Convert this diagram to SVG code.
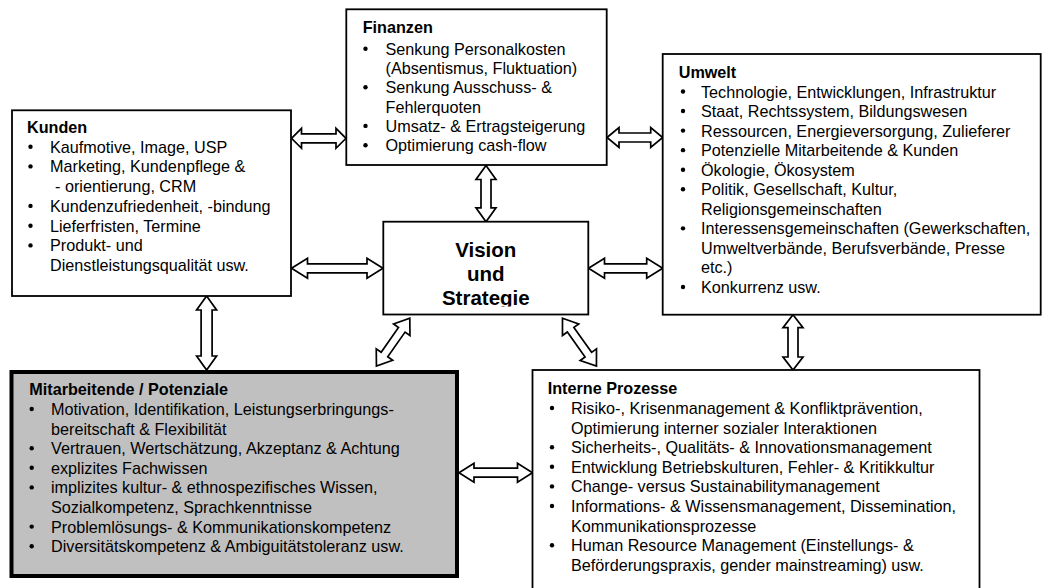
<svg xmlns="http://www.w3.org/2000/svg" width="1042" height="588" viewBox="0 0 1042 588">
<style>
text{font-family:"Liberation Sans",Arial,Helvetica,sans-serif;font-size:16.2px;fill:#000}
.t{font-weight:bold}
.v{font-weight:bold;font-size:20.5px;text-anchor:middle}
.box{fill:#fff;stroke:#000;stroke-width:1.8}
.gray{fill:#c0c0c0;stroke:#000;stroke-width:4}
.arr{fill:#fff;stroke:#000;stroke-width:1.7;stroke-linejoin:miter}
.b{fill:#000}
</style>
<defs>
<clipPath id="vclip"><rect x="385" y="223" width="202" height="83.5"/></clipPath>
</defs>
<rect x="0" y="0" width="1042" height="588" fill="#fff"/>

<g id="connectors">
<path class="arr" transform="translate(291.5,138.3)" d="M0,0 L10,-10 L10,-4.5 L44.5,-4.5 L44.5,-10 L54.5,0 L44.5,10 L44.5,4.5 L10,4.5 L10,10 Z"/>
<path class="arr" transform="translate(291.5,268.3)" d="M0,0 L16,-10 L16,-4.5 L75.5,-4.5 L75.5,-10 L91.5,0 L75.5,10 L75.5,4.5 L16,4.5 L16,10 Z"/>
<path class="arr" transform="translate(486,165.5) rotate(90)" d="M0,0 L14,-10 L14,-5 L42.3,-5 L42.3,-10 L56.3,0 L42.3,10 L42.3,5 L14,5 L14,10 Z"/>
<path class="arr" transform="translate(607,137.5)" d="M0,0 L12,-10 L12,-4.5 L43.7,-4.5 L43.7,-10 L55.7,0 L43.7,10 L43.7,4.5 L12,4.5 L12,10 Z"/>
<path class="arr" transform="translate(588.5,268.3)" d="M0,0 L16,-10 L16,-4.5 L58.2,-4.5 L58.2,-10 L74.2,0 L58.2,10 L58.2,4.5 L16,4.5 L16,10 Z"/>
<path class="arr" transform="translate(206.6,296) rotate(90)" d="M0,0 L14,-10 L14,-5.5 L60,-5.5 L60,-10 L74,0 L60,10 L60,5.5 L14,5.5 L14,10 Z"/>
<path class="arr" transform="translate(409.8,318.3) rotate(125)" d="M0,0 L14,-10 L14,-4 L44.2,-4 L44.2,-10 L58.2,0 L44.2,10 L44.2,4 L14,4 L14,10 Z"/>
<path class="arr" transform="translate(562.5,318.3) rotate(54.6)" d="M0,0 L14,-10 L14,-4 L44.6,-4 L44.6,-10 L58.6,0 L44.6,10 L44.6,4 L14,4 L14,10 Z"/>
<path class="arr" transform="translate(793,314.7) rotate(90)" d="M0,0 L13,-10 L13,-5 L42.3,-5 L42.3,-10 L55.3,0 L42.3,10 L42.3,5 L13,5 L13,10 Z"/>
<path class="arr" transform="translate(459,472.7)" d="M0,0 L15,-9.5 L15,-4.5 L58.5,-4.5 L58.5,-9.5 L73.5,0 L58.5,9.5 L58.5,4.5 L15,4.5 L15,9.5 Z"/>
</g>

<g id="kunden">
<rect class="box" x="12" y="110.3" width="279" height="185.7"/>
<text class="t" x="27" y="132.5">Kunden</text>
<circle class="b" cx="30.5" cy="146.7" r="2.2"/><text x="50" y="152.7">Kaufmotive, Image, USP</text>
<circle class="b" cx="30.5" cy="166.4" r="2.2"/><text x="50" y="172.4">Marketing, Kundenpflege &amp;</text>
<text x="55" y="192.2">- orientierung, CRM</text>
<circle class="b" cx="30.5" cy="205.9" r="2.2"/><text x="50" y="211.9">Kundenzufriedenheit, -bindung</text>
<circle class="b" cx="30.5" cy="225.7" r="2.2"/><text x="50" y="231.7">Lieferfristen, Termine</text>
<circle class="b" cx="30.5" cy="245.4" r="2.2"/><text x="50" y="251.4">Produkt- und</text>
<text x="50" y="271.2">Dienstleistungsqualität usw.</text>
</g>

<g id="finanzen">
<rect class="box" x="346.3" y="9.3" width="260.4" height="155.7"/>
<text class="t" x="362.7" y="32.7">Finanzen</text>
<circle class="b" cx="365.5" cy="48.7" r="2.2"/><text x="385.5" y="54.7">Senkung Personalkosten</text>
<text x="385.5" y="74">(Absentismus, Fluktuation)</text>
<circle class="b" cx="365.5" cy="87.3" r="2.2"/><text x="385.5" y="93.3">Senkung Ausschuss- &amp;</text>
<text x="385.5" y="112.6">Fehlerquoten</text>
<circle class="b" cx="365.5" cy="125.9" r="2.2"/><text x="385.5" y="131.9">Umsatz- &amp; Ertragsteigerung</text>
<circle class="b" cx="365.5" cy="145.2" r="2.2"/><text x="385.5" y="151.2">Optimierung cash-flow</text>
</g>

<g id="umwelt">
<rect class="box" x="662.7" y="54" width="378" height="260.7"/>
<text class="t" x="678.7" y="78.2">Umwelt</text>
<circle class="b" cx="683" cy="91.5" r="2.2"/><text x="701" y="97.5">Technologie, Entwicklungen, Infrastruktur</text>
<circle class="b" cx="683" cy="111.05" r="2.2"/><text x="701" y="117.05">Staat, Rechtssystem, Bildungswesen</text>
<circle class="b" cx="683" cy="130.6" r="2.2"/><text x="701" y="136.6">Ressourcen, Energieversorgung, Zulieferer</text>
<circle class="b" cx="683" cy="150.15" r="2.2"/><text x="701" y="156.15">Potenzielle Mitarbeitende &amp; Kunden</text>
<circle class="b" cx="683" cy="169.7" r="2.2"/><text x="701" y="175.7">Ökologie, Ökosystem</text>
<circle class="b" cx="683" cy="189.25" r="2.2"/><text x="701" y="195.25">Politik, Gesellschaft, Kultur,</text>
<text x="701" y="214.8">Religionsgemeinschaften</text>
<circle class="b" cx="683" cy="228.35" r="2.2"/><text x="701" y="234.35">Interessensgemeinschaften (Gewerkschaften,</text>
<text x="701" y="253.9">Umweltverbände, Berufsverbände, Presse</text>
<text x="701" y="273.45">etc.)</text>
<circle class="b" cx="683" cy="287" r="2.2"/><text x="701" y="293">Konkurrenz usw.</text>
</g>

<g id="vision">
<rect class="box" x="383.3" y="221.7" width="205" height="92.8"/>
<g clip-path="url(#vclip)">
<text class="v" x="485.8" y="256.8">Vision</text>
<text class="v" x="485.8" y="281">und</text>
<text class="v" x="485.8" y="305.4">Strategie</text>
</g>
</g>

<g id="mitarbeitende">
<rect class="gray" x="11.5" y="372" width="445.5" height="204"/>
<text class="t" x="29.3" y="395">Mitarbeitende / Potenziale</text>
<circle class="b" cx="31.7" cy="409" r="2.2"/><text x="51" y="415">Motivation, Identifikation, Leistungserbringungs-</text>
<text x="51" y="434.6">bereitschaft &amp; Flexibilität</text>
<circle class="b" cx="31.7" cy="448.2" r="2.2"/><text x="51" y="454.2">Vertrauen, Wertschätzung, Akzeptanz &amp; Achtung</text>
<circle class="b" cx="31.7" cy="467.8" r="2.2"/><text x="51" y="473.8">explizites Fachwissen</text>
<circle class="b" cx="31.7" cy="487.4" r="2.2"/><text x="51" y="493.4">implizites kultur- &amp; ethnospezifisches Wissen,</text>
<text x="51" y="513">Sozialkompetenz, Sprachkenntnisse</text>
<circle class="b" cx="31.7" cy="526.6" r="2.2"/><text x="51" y="532.6">Problemlösungs- &amp; Kommunikationskompetenz</text>
<circle class="b" cx="31.7" cy="546.2" r="2.2"/><text x="51" y="552.2">Diversitätskompetenz &amp; Ambiguitätstoleranz usw.</text>
</g>

<g id="interne-prozesse">
<rect class="box" x="532.5" y="370" width="447" height="240"/>
<text class="t" x="547.7" y="394.3">Interne Prozesse</text>
<circle class="b" cx="552" cy="408" r="2.2"/><text x="571" y="414">Risiko-, Krisenmanagement &amp; Konfliktprävention,</text>
<text x="571" y="433.6">Optimierung interner sozialer Interaktionen</text>
<circle class="b" cx="552" cy="447.2" r="2.2"/><text x="571" y="453.2">Sicherheits-, Qualitäts- &amp; Innovationsmanagement</text>
<circle class="b" cx="552" cy="466.8" r="2.2"/><text x="571" y="472.8">Entwicklung Betriebskulturen, Fehler- &amp; Kritikkultur</text>
<circle class="b" cx="552" cy="486.4" r="2.2"/><text x="571" y="492.4">Change- versus Sustainabilitymanagement</text>
<circle class="b" cx="552" cy="506" r="2.2"/><text x="571" y="512">Informations- &amp; Wissensmanagement, Dissemination,</text>
<text x="571" y="531.6">Kommunikationsprozesse</text>
<circle class="b" cx="552" cy="545.2" r="2.2"/><text x="571" y="551.2">Human Resource Management (Einstellungs- &amp;</text>
<text x="571" y="570.8">Beförderungspraxis, gender mainstreaming) usw.</text>
</g>
</svg>
